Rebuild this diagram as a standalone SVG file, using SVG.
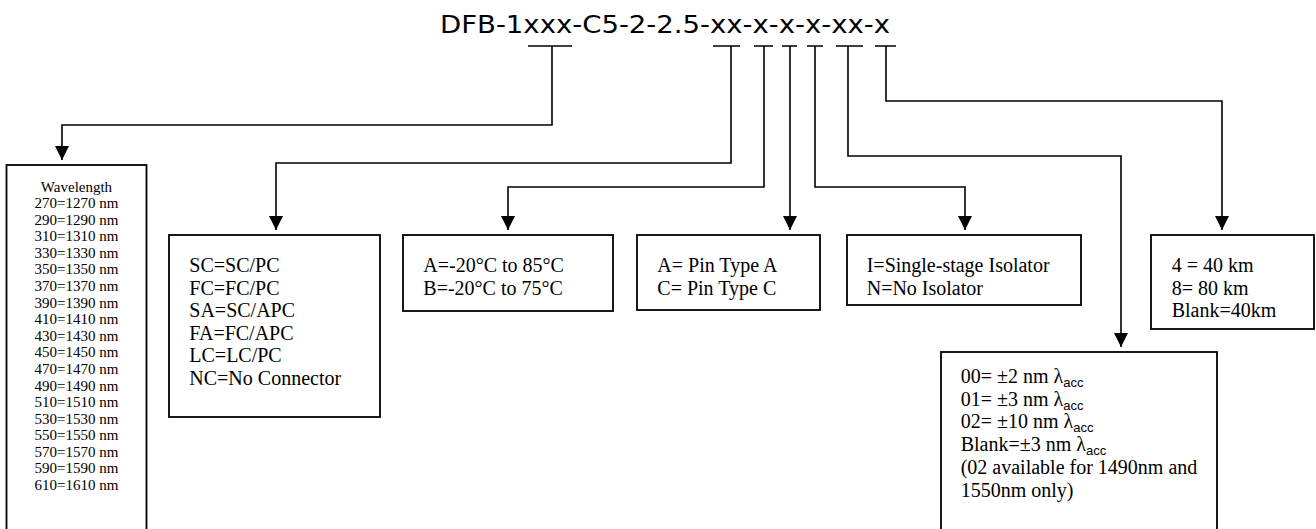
<svg xmlns="http://www.w3.org/2000/svg" width="1316" height="529" viewBox="0 0 1316 529">
<style>
.box{fill:#fff;stroke:#000;stroke-width:1.8}
.t{font-family:"Liberation Serif","Times New Roman",serif;font-size:20px;fill:#000}
.w{font-family:"Liberation Serif","Times New Roman",serif;font-size:15px;fill:#000;text-anchor:middle}
.sub{font-family:"Liberation Sans",Arial,sans-serif;font-size:13px}
.title{font-family:"DejaVu Sans",Verdana,sans-serif;font-size:24px;fill:#000}
.c{fill:none;stroke:#000;stroke-width:1.6}
</style>
<defs>
<marker id="ah" markerUnits="userSpaceOnUse" markerWidth="14" markerHeight="14" refX="14" refY="7" orient="auto">
<path d="M0,0 L14,7 L0,14 z" fill="#000"/>
</marker>
</defs>
<g id="title"><text class="title" x="440" y="33" textLength="450" lengthAdjust="spacingAndGlyphs">DFB-1xxx-C5-2-2.5-xx-x-x-x-xx-x</text></g>
<g id="connectors">
<path class="c" d="M528,46 H572 M552,46 V125 H62 V160" marker-end="url(#ah)"/>
<path class="c" d="M713,46 H740 M731,46 V163 H276 V230" marker-end="url(#ah)"/>
<path class="c" d="M754,46 H773 M764,46 V187 H508 V230" marker-end="url(#ah)"/>
<path class="c" d="M782,46 H797 M790,46 V230" marker-end="url(#ah)"/>
<path class="c" d="M807,46 H823 M815,46 V187 H965 V230" marker-end="url(#ah)"/>
<path class="c" d="M836,46 H863 M848,46 V156 H1121 V347" marker-end="url(#ah)"/>
<path class="c" d="M875,46 H896 M886,46 V101 H1222 V230" marker-end="url(#ah)"/>
</g>
<g id="wavelength">
<rect class="box" x="6.5" y="165" width="140" height="380"/>
<text class="w" x="76.5" y="191.5">Wavelength</text>
<text class="w" x="76.5" y="208.1">270=1270 nm</text>
<text class="w" x="76.5" y="224.7">290=1290 nm</text>
<text class="w" x="76.5" y="241.3">310=1310 nm</text>
<text class="w" x="76.5" y="257.8">330=1330 nm</text>
<text class="w" x="76.5" y="274.4">350=1350 nm</text>
<text class="w" x="76.5" y="291.0">370=1370 nm</text>
<text class="w" x="76.5" y="307.6">390=1390 nm</text>
<text class="w" x="76.5" y="324.2">410=1410 nm</text>
<text class="w" x="76.5" y="340.7">430=1430 nm</text>
<text class="w" x="76.5" y="357.3">450=1450 nm</text>
<text class="w" x="76.5" y="373.9">470=1470 nm</text>
<text class="w" x="76.5" y="390.5">490=1490 nm</text>
<text class="w" x="76.5" y="407.1">510=1510 nm</text>
<text class="w" x="76.5" y="423.6">530=1530 nm</text>
<text class="w" x="76.5" y="440.2">550=1550 nm</text>
<text class="w" x="76.5" y="456.8">570=1570 nm</text>
<text class="w" x="76.5" y="473.4">590=1590 nm</text>
<text class="w" x="76.5" y="490.0">610=1610 nm</text>
</g>
<g id="connector-type">
<rect class="box" x="169" y="235" width="211" height="182"/>
<text class="t" x="189.3" y="272">SC=SC/PC</text>
<text class="t" x="189.3" y="294.5">FC=FC/PC</text>
<text class="t" x="189.3" y="317">SA=SC/APC</text>
<text class="t" x="189.3" y="339.5">FA=FC/APC</text>
<text class="t" x="189.3" y="362">LC=LC/PC</text>
<text class="t" x="189.3" y="384.5">NC=No Connector</text>
</g>
<g id="temperature">
<rect class="box" x="403" y="235" width="210" height="76"/>
<text class="t" x="423.3" y="272">A=-20°C to 85°C</text>
<text class="t" x="423.3" y="294.5">B=-20°C to 75°C</text>
</g>
<g id="pin-type">
<rect class="box" x="637" y="235" width="183" height="75"/>
<text class="t" x="657.3" y="272">A= Pin Type A</text>
<text class="t" x="657.3" y="294.5">C= Pin Type C</text>
</g>
<g id="isolator">
<rect class="box" x="847" y="235" width="234" height="70"/>
<text class="t" x="866.7" y="272">I=Single-stage Isolator</text>
<text class="t" x="866.7" y="294.5">N=No Isolator</text>
</g>
<g id="distance">
<rect class="box" x="1151" y="235" width="163" height="94"/>
<text class="t" x="1171.7" y="272">4 = 40 km</text>
<text class="t" x="1171.7" y="294.5">8= 80 km</text>
<text class="t" x="1171.7" y="317">Blank=40km</text>
</g>
<g id="accuracy">
<rect class="box" x="941" y="352" width="276" height="190"/>
<text class="t" x="960.7" y="383">00= ±2 nm λ<tspan class="sub" dy="4">acc</tspan></text>
<text class="t" x="960.7" y="405.7">01= ±3 nm λ<tspan class="sub" dy="4">acc</tspan></text>
<text class="t" x="960.7" y="428.4">02= ±10 nm λ<tspan class="sub" dy="4">acc</tspan></text>
<text class="t" x="960.7" y="451.1">Blank=±3 nm λ<tspan class="sub" dy="4">acc</tspan></text>
<text class="t" x="960.7" y="473.8">(02 available for 1490nm and</text>
<text class="t" x="960.7" y="496.5">1550nm only)</text>
</g>
</svg>
